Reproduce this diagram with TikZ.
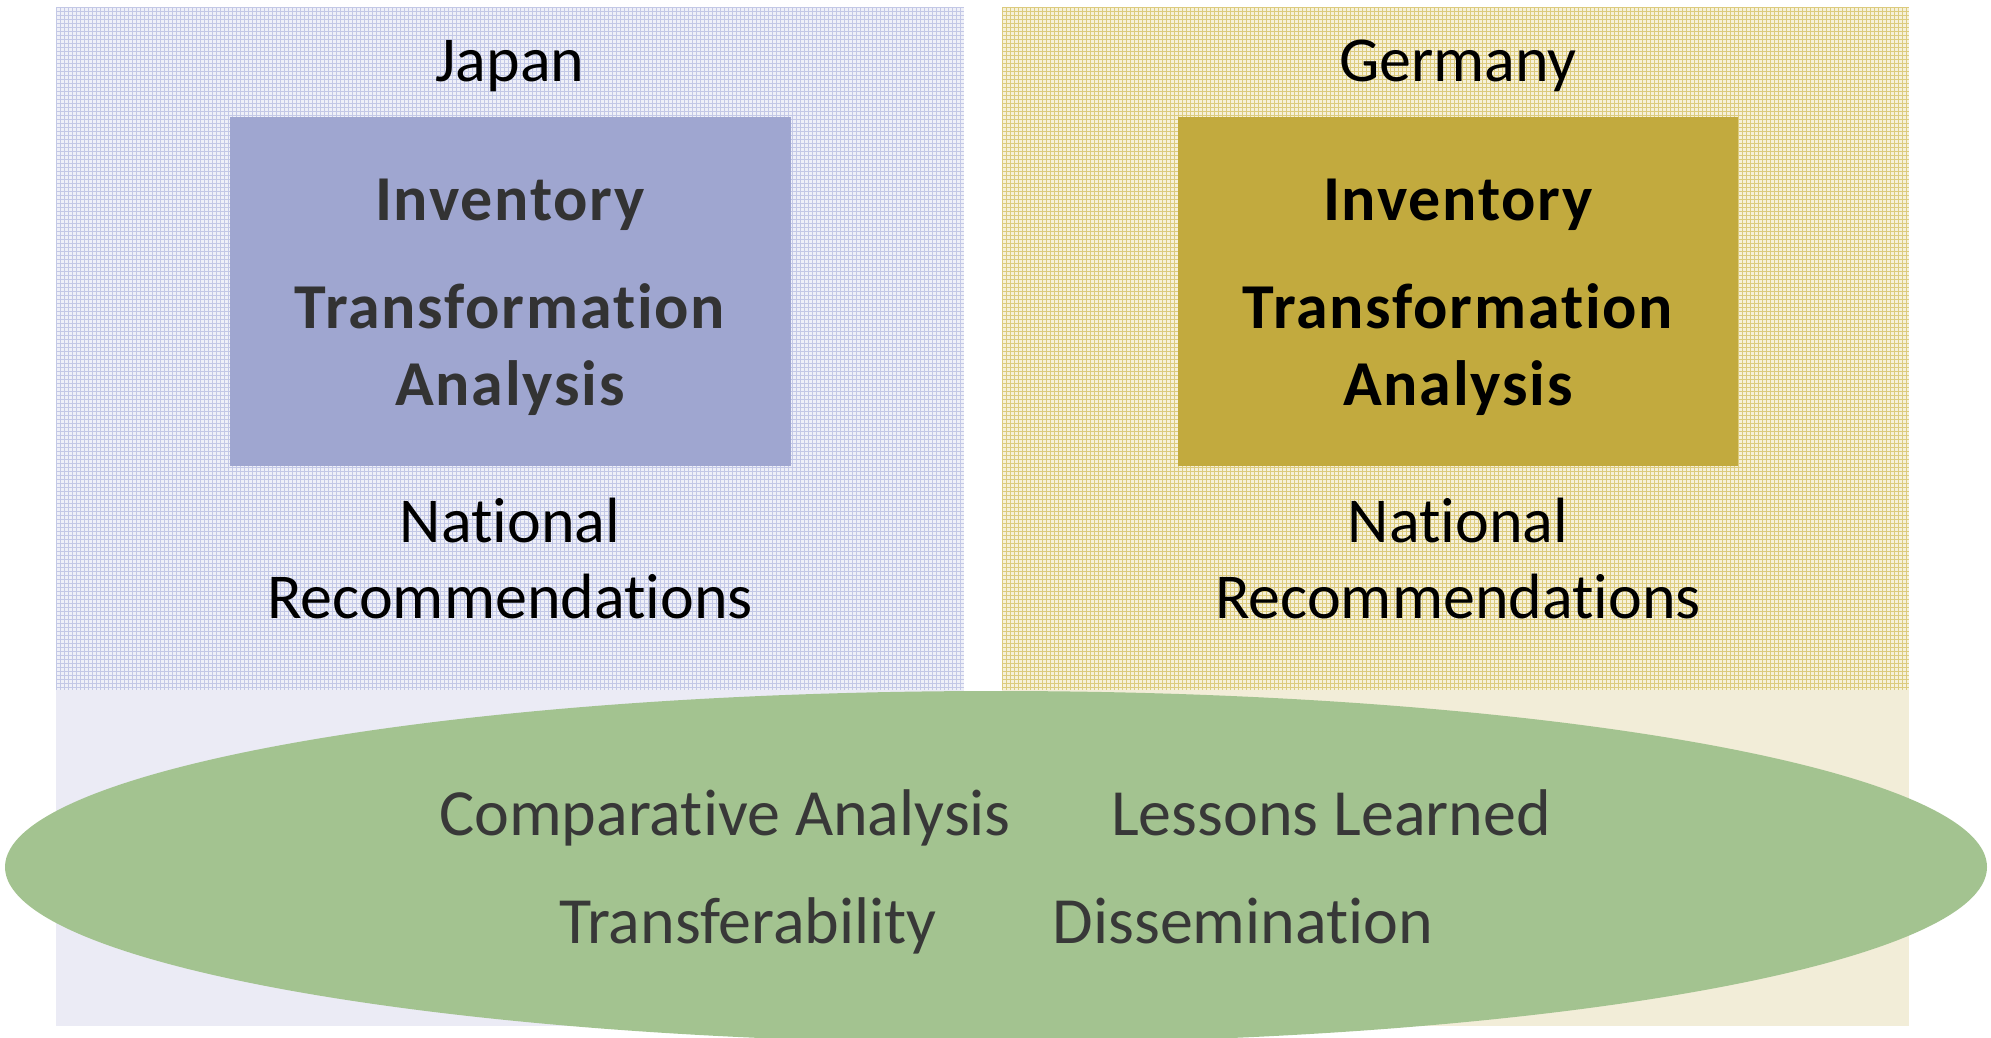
\documentclass[tikz,border=0pt]{standalone}
\usepackage{fontspec}
\setmainfont[Ligatures={NoCommon,NoRare,NoContextual}]{Carlito}
\usetikzlibrary{shapes.geometric}
\definecolor{bluebox}{HTML}{9FA6D0}
\definecolor{goldbox}{HTML}{C2AA3E}
\definecolor{ellgreen}{HTML}{A3C390}
\definecolor{lowleft}{HTML}{EBEBF5}
\definecolor{lowright}{HTML}{F2EDD8}
\definecolor{patleftbase}{HTML}{EFF0F8}
\definecolor{patleftline}{HTML}{C3C8E6}
\definecolor{patrightbase}{HTML}{F6F1DA}
\definecolor{patrightline}{HTML}{DCCB7E}
\definecolor{darktext}{HTML}{333333}
\definecolor{elltext}{HTML}{383838}
\tikzset{
  regtext/.style={anchor=base, inner sep=0pt, font=\fontsize{64}{70}\selectfont, text=black},
  boldtext/.style={anchor=base, inner sep=0pt, font=\fontsize{64}{70}\selectfont\bfseries\addfontfeatures{LetterSpace=2.8}},
  elltxt/.style={anchor=base, inner sep=0pt, font=\fontsize{66}{70}\selectfont, text=elltext},
  mainbox/.style={draw=none, inner sep=0pt, anchor=north west},
}
\begin{document}
\begin{tikzpicture}[x=1pt,y=-1pt]
\useasboundingbox (0,0) rectangle (1991,1037);
% left panel
\fill[patleftbase] (56,7) rectangle (964,690);
\draw[patleftline, line width=0.9pt] \foreach \i in {0,...,226} { (56+\i*4,7) -- (56+\i*4,690) };
\draw[patleftline, line width=0.9pt] \foreach \j in {0,...,170} { (56,7+\j*4) -- (964,7+\j*4) };
\fill[lowleft] (56,690) rectangle (964,1026);
% right panel
\fill[patrightbase] (1002,7) rectangle (1909,690);
\draw[patrightline, line width=0.9pt] \foreach \i in {0,...,226} { (1002+\i*4,7) -- (1002+\i*4,690) };
\draw[patrightline, line width=0.9pt] \foreach \j in {0,...,170} { (1002,7+\j*4) -- (1909,7+\j*4) };
\fill[lowright] (1002,690) rectangle (1909,1026);
% boxes
\node[mainbox, fill=bluebox, minimum width=561pt, minimum height=349pt] (jbox) at (230,117) {};
\node[mainbox, fill=goldbox, minimum width=560pt, minimum height=349pt] (gbox) at (1178,117) {};
% panel texts
\node[regtext] (japan) at (510,81) {Japan};
\node[regtext] (germany) at (1458,81) {Germany};
\node[boldtext, text=darktext] (jinv) at (510,220) {Inventory};
\node[boldtext, text=darktext] (jtra) at (510,328) {Transformation};
\node[boldtext, text=darktext] (jana) at (510,405) {Analysis};
\node[boldtext, text=black] (ginv) at (1458,220) {Inventory};
\node[boldtext, text=black] (gtra) at (1458,328) {Transformation};
\node[boldtext, text=black] (gana) at (1458,405) {Analysis};
\node[regtext] (jnat) at (510,542) {National};
\node[regtext] (jrec) at (510,618) {Recommendations};
\node[regtext] (gnat) at (1458,542) {National};
\node[regtext] (grec) at (1458,618) {Recommendations};
% ellipse
\node[ellipse, fill=ellgreen, draw=none, inner sep=0pt, minimum width=1982pt, minimum height=352pt] (ell) at (996,867) {};
\node[elltxt] (comp) at (725,835) {Comparative Analysis};
\node[elltxt] (less) at (1331,835) {Lessons Learned};
\node[elltxt] (trans) at (748,943) {Transferability};
\node[elltxt] (diss) at (1243,943) {Dissemination};
\end{tikzpicture}
\end{document}
